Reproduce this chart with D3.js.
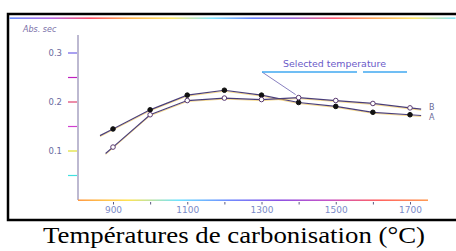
<!DOCTYPE html>
<html>
<head>
<meta charset="utf-8">
<script src="https://cdn.jsdelivr.net/npm/d3@7"></script>
<style>
  body { margin: 0; background: #fff; }
  svg { display: block; }
</style>
</head>
<body>
<svg id="chart" width="456" height="251"></svg>
<script>
// carbonisation temperatures (°C)
let temps = [900, 1000, 1100, 1200, 1300, 1400, 1500, 1600, 1700];
// Abs. sec readings
let seriesA = [0.145, 0.184, 0.214, 0.224, 0.214, 0.199, 0.191, 0.179, 0.174];
let seriesB = [0.108, 0.174, 0.203, 0.208, 0.205, 0.209, 0.203, 0.197, 0.188];
let xTicks = [900, 1000, 1100, 1200, 1300, 1400, 1500, 1600, 1700];
let xLabels = [900, 1100, 1300, 1500, 1700];
let yTicks = [0.05, 0.1, 0.15, 0.2, 0.25, 0.3];
let yLabels = [0.1, 0.2, 0.3];
let selectedTemp = 1400;

let svg = d3.select("#chart");

let xScale = d3.scaleLinear().domain([900, 1700]).range([113, 410]);
let yScale = d3.scaleLinear().domain([0, 0.3]).range([200, 53]);

// scan-like rainbow gradients
let defs = svg.append("defs");
function grad(id, stops) {
  let g = defs.append("linearGradient").attr("id", id)
    .attr("x1", "0%").attr("x2", "100%").attr("y1", "0%").attr("y2", "0%");
  stops.forEach((c, i) => g.append("stop")
    .attr("offset", (i / (stops.length - 1) * 100) + "%")
    .attr("stop-color", c));
}
grad("topRainbow", ["#4070ff", "#a040e0", "#ff2040", "#ffa020", "#ffe040", "#60e0ff",
  "#4060ff", "#8040d0", "#ff3050", "#ff9030", "#ffe040", "#60e0ff"]);
grad("axisRainbow", ["#ff9030", "#ffe040", "#60e0ff", "#6080ff", "#8040e0", "#c040c0", "#ff5050", "#ff9040"]);

// frame
svg.append("rect")
  .attr("x", 8).attr("y", 14)
  .attr("width", 460).attr("height", 206)
  .attr("fill", "none")
  .attr("stroke", "#000")
  .attr("stroke-width", 2.5);

svg.append("rect")
  .attr("x", 9.5).attr("y", 17.5)
  .attr("width", 446).attr("height", 1.3)
  .attr("fill", "url(#topRainbow)");

// y axis
svg.append("line")
  .attr("x1", 78).attr("x2", 78)
  .attr("y1", 35).attr("y2", yScale(0))
  .attr("stroke", "#9a94b8").attr("stroke-width", 1.3);

let tickColors = ["#40e0e0", "#e0e030", "#d040d0", "#e04070", "#c020c0", "#7060e8"];
svg.selectAll(".ytick")
  .data(yTicks)
  .join("line")
  .attr("class", "ytick")
  .attr("x1", 68).attr("x2", 77)
  .attr("y1", d => yScale(d)).attr("y2", d => yScale(d))
  .attr("stroke", (d, i) => tickColors[i])
  .attr("stroke-width", 1.2);

svg.selectAll(".ylabel")
  .data(yLabels)
  .join("text")
  .attr("class", "ylabel")
  .attr("x", 62)
  .attr("y", d => yScale(d) + 3)
  .attr("text-anchor", "end")
  .style("font-family", "DejaVu Sans")
  .style("font-size", "8.5px")
  .attr("fill", "#6a6aa0")
  .text(d => d3.format(".1f")(d));

svg.append("text")
  .attr("x", 23).attr("y", 32)
  .style("font-family", "DejaVu Sans")
  .style("font-size", "8px")
  .style("font-style", "italic")
  .attr("fill", "#7a70a8")
  .text("Abs. sec");

// x axis
svg.append("rect")
  .attr("x", 78).attr("y", 199.5)
  .attr("width", 350).attr("height", 1.4)
  .attr("fill", "url(#axisRainbow)");

let xAxis = svg.append("g")
  .attr("transform", "translate(0,202)")
  .call(d3.axisBottom(xScale)
    .tickValues(xTicks)
    .tickSize(2.5)
    .tickSizeOuter(0)
    .tickFormat(d => xLabels.includes(d) ? d : ""));
xAxis.select(".domain").remove();
xAxis.selectAll(".tick line").attr("stroke", "#5a5a80");
xAxis.selectAll(".tick text")
  .attr("y", 5)
  .style("font-family", "DejaVu Sans")
  .style("font-size", "9px")
  .attr("fill", "#7a8ac8");

// lines, extended a little past the end points like the original drawing
function extended(vals, startT, endT) {
  let n = vals.length;
  let s0 = (vals[1] - vals[0]) / (temps[1] - temps[0]);
  let s1 = (vals[n - 1] - vals[n - 2]) / (temps[n - 1] - temps[n - 2]);
  let pts = temps.map((t, i) => [t, vals[i]]);
  pts.unshift([startT, vals[0] + s0 * (startT - temps[0])]);
  pts.push([endT, vals[n - 1] + s1 * (endT - temps[n - 1])]);
  return pts;
}

let line = d3.line().x(d => xScale(d[0])).y(d => yScale(d[1]));
let series = [
  { name: "A", vals: seriesA, start: 865, filled: true },
  { name: "B", vals: seriesB, start: 880, filled: false }
];

series.forEach(s => {
  let pts = extended(s.vals, s.start, 1730);
  svg.append("path")
    .attr("d", line(pts))
    .attr("transform", "translate(0,1)")
    .attr("fill", "none")
    .attr("stroke", "#f0c040")
    .attr("stroke-opacity", 0.6)
    .attr("stroke-width", 1);
  svg.append("path")
    .attr("d", line(pts))
    .attr("fill", "none")
    .attr("stroke", "#4a3e78")
    .attr("stroke-width", 1.2);
});

series.forEach(s => {
  svg.selectAll(".pt-" + s.name)
    .data(s.vals)
    .join("circle")
    .attr("class", "pt-" + s.name)
    .attr("cx", (d, i) => xScale(temps[i]))
    .attr("cy", d => yScale(d))
    .attr("r", 2.3)
    .attr("fill", s.filled ? "#111" : "#fff")
    .attr("stroke", s.filled ? "#111" : "#5a3a70")
    .attr("stroke-width", 1);

  let last = s.vals[s.vals.length - 1];
  svg.append("text")
    .attr("x", xScale(1700) + 19)
    .attr("y", yScale(last) + (s.name === "A" ? 5 : 2))
    .style("font-family", "DejaVu Sans")
    .style("font-size", "8px")
    .attr("fill", "#6a6a98")
    .text(s.name);
});

// selected temperature annotation
let selIdx = temps.indexOf(selectedTemp);
svg.append("line")
  .attr("x1", 262).attr("y1", 72)
  .attr("x2", xScale(selectedTemp) - 3).attr("y2", yScale(seriesB[selIdx]) - 3)
  .attr("stroke", "#6a60b0").attr("stroke-width", 0.8);

svg.append("line")
  .attr("x1", 262).attr("x2", 357).attr("y1", 72).attr("y2", 72)
  .attr("stroke", "#40a8f0").attr("stroke-width", 1.3);
svg.append("line")
  .attr("x1", 363).attr("x2", 407).attr("y1", 72).attr("y2", 72)
  .attr("stroke", "#40a8f0").attr("stroke-width", 1.3);

svg.append("text")
  .attr("x", 283).attr("y", 67)
  .attr("textLength", 103)
  .attr("lengthAdjust", "spacingAndGlyphs")
  .style("font-family", "DejaVu Sans")
  .style("font-size", "8.5px")
  .attr("fill", "#6a5ac8")
  .text("Selected temperature");

// caption
svg.append("text")
  .attr("x", 43).attr("y", 243)
  .attr("textLength", 382)
  .attr("lengthAdjust", "spacingAndGlyphs")
  .style("font-family", "Liberation Serif, Times New Roman, serif")
  .style("font-size", "24px")
  .attr("fill", "#000")
  .text("Températures de carbonisation (°C)");
</script>
</body>
</html>
